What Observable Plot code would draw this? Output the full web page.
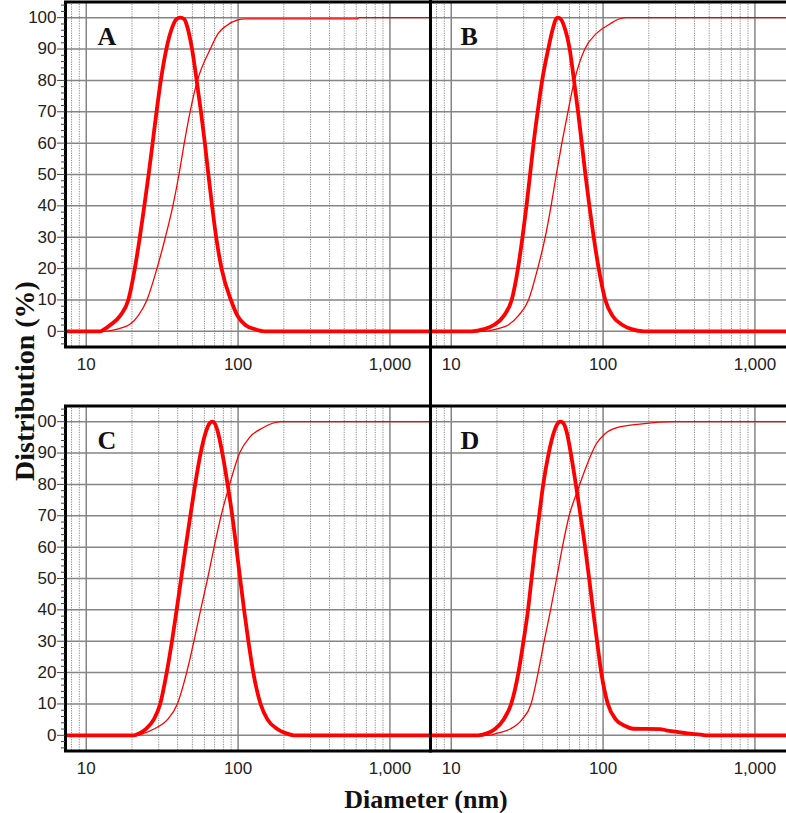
<!DOCTYPE html>
<html>
<head>
<meta charset="utf-8">
<script src="https://cdn.jsdelivr.net/npm/d3@7"></script>
<script src="https://cdn.jsdelivr.net/npm/@observablehq/plot@0.6"></script>
<style>
  html, body { margin: 0; padding: 0; background: white; overflow: hidden; }
  #wrap { position: relative; width: 786px; height: 813px; overflow: hidden; background: white; }
  #wrap svg { position: absolute; }
  #ytitle { position: absolute; left: 23.5px; top: 381px; transform: translate(-50%, -50%) rotate(-90deg);
            font: bold 28px "Liberation Serif", "Times New Roman", serif; line-height: 27px; background: white;
            white-space: nowrap; color: #111; }
  #xtitle { position: absolute; left: 426px; top: 786px; transform: translateX(-50%);
            font: bold 26px "Liberation Serif", "Times New Roman", serif; white-space: nowrap; color: #111; line-height: 28px; }
  #vline { position: absolute; left: 428.5px; top: 0; width: 3.5px; height: 751px; background: #000; }
</style>
</head>
<body>
<div id="wrap">
  <div id="vline"></div>
</div>
<script>
// ---- tick values ----
const xMajor = [10, 100, 1000];
const xMinor = [8, 9, 20, 30, 40, 50, 60, 70, 80, 90, 200, 300, 400, 500, 600, 700, 800, 900];
const yMajor = [0, 10, 20, 30, 40, 50, 60, 70, 80, 90, 100];
const yMinor = [-4, -2, 2, 4, 6, 8, 12, 14, 16, 18, 22, 24, 26, 28, 32, 34, 36, 38, 42, 44, 46, 48,
                52, 54, 56, 58, 62, 64, 66, 68, 72, 74, 76, 78, 82, 84, 86, 88, 92, 94, 96, 98, 102, 104];
const panelLetters = ["A", "B", "C", "D"];

// ---- data: [diameter (nm), distribution (%)] ----
const freqA = [[7,0],[12.4,0],[13.2,0.7],[14.39,2],[16.75,5],[18.92,10],[20.88,20],[22.53,30],[24.12,40],
  [25.75,50],[27.35,60],[29.03,70],[30.98,80],[33.69,90],[36.88,97],[39.2,99.5],[41.66,100],[44.26,99.5],
  [46.33,97],[49.75,90],[53.35,80],[56.93,70],[60.41,60],[63.72,50],[67.4,40],[71.72,30],[77.85,20],
  [89.66,10],[98.95,5],[111.7,2],[128.1,0.7],[149.1,0],[2000,0]];
const cumA = [[7,0],[13,0],[16,0.7],[19.5,2.3],[22,5],[25.1,10],[29.2,20],[33.2,30],[37.2,40],[40.8,50],
  [44.2,60],[48.3,70],[54,80],[65.6,90],[74,95],[84.6,97.6],[98.4,99.2],[112,99.6],[610,99.6],[625,100],[2000,100]];

const freqB = [[7,0],[13.69,0],[16.45,0.7],[19.09,2],[22.25,5],[25.0,10],[27.49,20],[29.45,30],[31.31,40],
  [33.04,50],[34.86,60],[37.07,70],[39.7,80],[43.52,90],[46.99,97],[48.83,99.5],[50.35,100],[52.72,99.5],
  [55.63,97],[60.23,90],[64.33,80],[68.39,70],[72.38,60],[76.47,50],[81.21,40],[86.74,30],[93.63,20],
  [103.4,10],[115.1,5],[134.2,2],[154,0.7],[185,0],[2000,0]];
const cumB = [[7,0],[16.71,0],[20.08,0.8],[23.76,2],[27.7,5],[32.28,10],[37.07,20],[41.58,30],[45.44,40],
  [49.19,50],[53.51,60],[58.67,70],[64.8,80],[75.78,90],[90.5,95],[111.1,98],[126.2,99.5],[140.5,100],[2000,100]];

const freqC = [[7,0],[20.63,0],[22.49,0.7],[24.62,2],[27.8,5],[30.68,10],[33.86,20],[36.69,30],[39.39,40],
  [42.17,50],[45.14,60],[48.48,70],[52.13,80],[56.66,90],[61.58,97],[64.93,99.5],[67.65,100],[70.05,99.5],
  [73.31,97],[78.73,90],[85.29,80],[91.58,70],[97.32,60],[103.1,50],[109.5,40],[116.9,30],[125.9,20],
  [140.6,10],[156.4,5],[181.1,2],[205.4,0.7],[232.9,0],[2000,0]];
const cumC = [[7,0],[21.71,0],[23.89,0.6],[27.93,2],[34.22,5],[39.81,10],[45.84,20],[51.2,30],[56.66,40],
  [63.0,50],[69.5,60],[77.28,70],[87.94,80],[102.3,90],[119,95],[145,98],[168.7,99.5],[190.4,100],[2000,100]];

const freqD = [[7,0],[15.05,0],[17.36,0.7],[19.42,2],[22.08,5],[24.8,10],[27.7,20],[29.9,30],[32.04,40],
  [33.8,50],[35.67,60],[37.92,70],[40.32,80],[43.85,90],[47.7,97],[50.35,99.5],[52.56,100],[54.78,99.5],
  [57.36,97],[61.25,90],[66.14,80],[71.05,70],[76.13,60],[80.93,50],[85.81,40],[91.23,30],[97.28,20],
  [107.5,10],[121.5,5],[139.5,3],[157.6,2.1],[237,2],[260,1.6],[306,1.1],[360,0.6],[438,0.2],[470,0],[2000,0]];
const cumD = [[7,0],[17.55,0],[20.54,0.8],[24.43,2],[29.23,5],[33.54,10],[37.34,20],[40.94,30],[45.08,40],
  [49.41,50],[53.94,60],[59.76,70],[67.86,78],[77.08,85.4],[89.83,92.8],[102.2,96],[122,98],[174.7,99.25],
  [306,100],[2000,100]];

const panels = [
  {letter: panelLetters[0], freq: freqA, cum: cumA, left: 0, top: 0, showY: true},
  {letter: panelLetters[1], freq: freqB, cum: cumB, left: 425, top: 0, showY: false},
  {letter: panelLetters[2], freq: freqC, cum: cumC, left: 0, top: 404, showY: true},
  {letter: panelLetters[3], freq: freqD, cum: cumD, left: 425, top: 404, showY: false}
];

const wrap = document.getElementById("wrap");
const red = "#ff0000";

for (const p of panels) {
  const ml = p.showY ? 65 : 5;
  const mr = 5;
  const mt = 1.5;
  const plotH = 345;
  const mb = 46;
  const marks = [
    Plot.gridX(xMinor, {stroke: "#8a8a8a", strokeOpacity: 1, strokeWidth: 1, strokeDasharray: "1.2,1.2"}),
    Plot.gridX(xMajor, {stroke: "#858585", strokeOpacity: 1, strokeWidth: 1.5}),
    Plot.gridY(yMajor, {stroke: "#858585", strokeOpacity: 1, strokeWidth: 1.5}),
    Plot.axisX(xMajor, {anchor: "bottom", tickSize: 0, tickPadding: 11, tickFormat: d3.format(","),
      fill: "#222", fontSize: 17, label: null}),
    Plot.line(p.cum, {x: d => d[0], y: d => d[1], stroke: red, strokeWidth: 1.3, curve: "monotone-x", clip: true}),
    Plot.line(p.freq, {x: d => d[0], y: d => d[1], stroke: red, strokeWidth: 3.8, curve: "monotone-x",
      strokeLinejoin: "round", clip: true}),
    Plot.text([p.letter], {frameAnchor: "top-left", dx: p.showY ? 32 : 30, dy: 25, text: d => d,
      textAnchor: "start", lineAnchor: "top", fontFamily: "Liberation Serif, Times New Roman, serif",
      fontWeight: "bold", fontSize: 26, fill: "#111"}),
    Plot.frame({stroke: "#000", strokeWidth: 3})
  ];
  if (p.showY) {
    marks.push(Plot.axisY(yMinor, {anchor: "left", tickSize: 4, stroke: "#444", tickFormat: () => "", label: null}));
    marks.push(Plot.axisY(yMajor, {anchor: "left", tickSize: 8, tickPadding: 1, stroke: "#444", fill: "#222",
      fontSize: 17, label: null}));
  }
  const width = ml + 365 + mr;
  const chart = Plot.plot({
    width, height: mt + plotH + mb,
    marginLeft: ml, marginRight: mr, marginTop: mt, marginBottom: mb,
    style: {background: "transparent", fontFamily: "'Liberation Sans', Arial, sans-serif", fontSize: "17px", overflow: "visible"},
    x: {type: "log", domain: [7.3, 1850], axis: null},
    y: {domain: [-5, 105], axis: null},
    marks
  });
  chart.style.left = p.left + "px";
  chart.style.top = p.top + "px";
  chart.style.maxWidth = "none";
  wrap.appendChild(chart);
}

const vline = document.getElementById("vline");
wrap.appendChild(vline);
const yt = document.createElement("div");
yt.id = "ytitle"; yt.textContent = "Distribution (%)";
wrap.appendChild(yt);
const xt = document.createElement("div");
xt.id = "xtitle"; xt.textContent = "Diameter (nm)";
wrap.appendChild(xt);
</script>
</body>
</html>
